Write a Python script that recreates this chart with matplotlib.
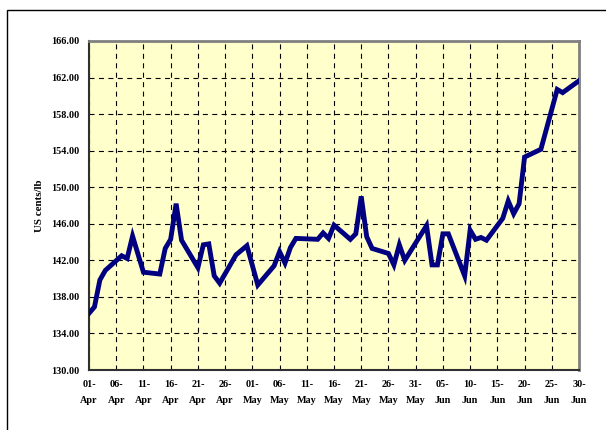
import matplotlib
matplotlib.use('Agg')
from matplotlib import pyplot as plt
from matplotlib.patches import Rectangle
import numpy as np
import pandas as pd

dates = ['2008-04-01', '2008-04-02', '2008-04-03', '2008-04-04', '2008-04-07',
         '2008-04-08', '2008-04-09', '2008-04-11', '2008-04-14', '2008-04-15',
         '2008-04-16', '2008-04-17', '2008-04-18', '2008-04-21', '2008-04-22',
         '2008-04-23', '2008-04-24', '2008-04-25', '2008-04-28', '2008-04-30',
         '2008-05-02', '2008-05-05', '2008-05-06', '2008-05-07', '2008-05-08',
         '2008-05-09', '2008-05-13', '2008-05-14', '2008-05-15', '2008-05-16',
         '2008-05-19', '2008-05-20', '2008-05-21', '2008-05-22', '2008-05-23',
         '2008-05-26', '2008-05-27', '2008-05-28', '2008-05-29', '2008-06-02',
         '2008-06-03', '2008-06-04', '2008-06-05', '2008-06-06', '2008-06-09',
         '2008-06-10', '2008-06-11', '2008-06-12', '2008-06-13', '2008-06-16',
         '2008-06-17', '2008-06-18', '2008-06-19', '2008-06-20', '2008-06-23',
         '2008-06-26', '2008-06-27', '2008-06-30']
prices = [136.2, 136.9, 139.85, 140.9, 142.5,
          142.2, 144.65, 140.7, 140.5, 143.3,
          144.3, 148.2, 144.2, 141.2, 143.7,
          143.8, 140.3, 139.5, 142.6, 143.6,
          139.3, 141.4, 142.95, 141.7, 143.4,
          144.4, 144.3, 145.0, 144.4, 145.85,
          144.3, 144.9, 149.0, 144.6, 143.3,
          142.75, 141.5, 143.7, 142.0, 145.8,
          141.5, 141.5, 144.9, 144.9, 140.3,
          145.3, 144.3, 144.5, 144.2, 146.6,
          148.5, 147.1, 148.2, 153.3, 154.15,
          160.7, 160.35, 161.65]
y_ticks = np.arange(130, 167, 4)

start = pd.Timestamp('2008-04-01')
days = (pd.to_datetime(dates) - start).days.values
tick_days = np.arange(0, 91, 5)
tick_labels = [(start + pd.Timedelta(days=int(d))).strftime('%d-\n%b') for d in tick_days]

plt.rcParams['font.family'] = ['Liberation Serif', 'DejaVu Serif']
plt.rcParams['font.weight'] = 'bold'

fig = plt.figure(figsize=(6.06, 4.30), dpi=100)
ax = fig.add_axes([89/606, 1-370/430, 490/606, 329/430])
ax.set_facecolor('#FFFFCC')

# outer chart frame (runs off the right and bottom of the image)
fig.patches.append(Rectangle((7/606, -0.1), 1.2, 0.1 + 1 - 10/430, transform=fig.transFigure,
                             fill=False, edgecolor='black', lw=1.0, clip_on=False))

ax.plot(days, prices, '-', color='#000080', lw=3.5, solid_joinstyle='miter', zorder=3)

ax.set_xlim(0, 90)
ax.set_ylim(130, 166)
ax.set_yticks(y_ticks)
ax.set_yticklabels([f'{v:.2f}' for v in y_ticks])
ax.set_xticks(tick_days)
ax.set_xticklabels(tick_labels, linespacing=2.0)
ax.tick_params(axis='both', length=0, labelsize=7.3)
ax.tick_params(axis='y', pad=7)
ax.tick_params(axis='x', pad=7)

ax.grid(True, color='black', lw=0.8, linestyle=(0, (4.5, 4)), zorder=1)
ax.set_axisbelow(True)

for side in ['top', 'right']:
    ax.spines[side].set_color('#808080')
    ax.spines[side].set_linewidth(2)
for side in ['left', 'bottom']:
    ax.spines[side].set_color('#303030')
    ax.spines[side].set_linewidth(1.5)

ax.set_ylabel('US cents/lb', fontsize=7.8, fontweight='bold', labelpad=5)

fig.savefig('out.png', dpi=100)
